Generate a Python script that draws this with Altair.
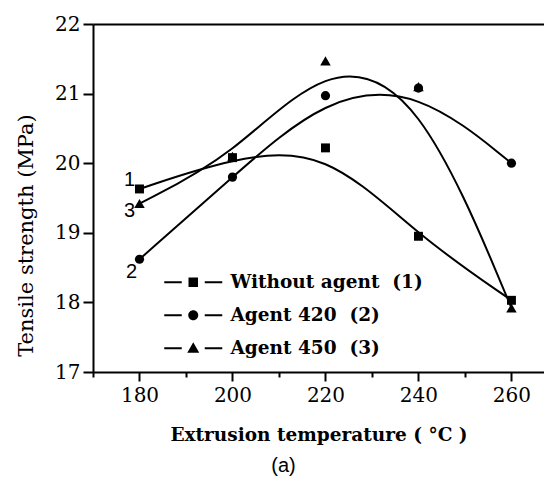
import altair as alt
import pandas as pd

temps = [180, 200, 220, 240, 260]
series_names = ["Without agent\u00a0\u00a0(1)", "Agent 420\u00a0\u00a0(2)", "Agent 450\u00a0\u00a0(3)"]
without_agent = [19.63, 20.08, 20.22, 18.95, 18.03]
agent_420 = [18.62, 19.80, 20.97, 21.08, 20.00]
agent_450 = [19.42, 20.10, 21.47, 21.10, 17.92]
curve_labels = ["1", "2", "3"]
point_shapes = ["square", "circle", "triangle-up"]
point_sizes = [80, 85, 110]

x_ticks = [170, 180, 190, 200, 210, 220, 230, 240, 250, 260]
y_ticks = [17, 17.5, 18, 18.5, 19, 19.5, 20, 20.5, 21, 21.5, 22]

rows = []
for name, vals, lab in zip(series_names, [without_agent, agent_420, agent_450], curve_labels):
    for t, v in zip(temps, vals):
        rows.append({"temp": t, "ts": v, "series": name, "lab": lab})
df = pd.DataFrame(rows)

serif = "DejaVu Serif"

xscale = alt.Scale(domain=[170, 267], nice=False, zero=False)
yscale = alt.Scale(domain=[17, 22], nice=False, zero=False)

x_enc = alt.X("temp:Q", scale=xscale, axis=alt.Axis(
    values=x_ticks, grid=False, orient="bottom",
    labelExpr="datum.value % 20 == 0 ? datum.label : ''",
    tickSize={"condition": {"test": "datum.value % 20 == 0", "value": 9}, "value": 5},
    tickWidth=2, domainWidth=2, domainColor="black", tickColor="black",
    labelFont=serif, labelFontSize=20, labelColor="black", labelPadding=4,
    title="Extrusion temperature ( °C )", titleFont=serif, titleFontSize=18.5,
    titleFontWeight="bold", titleColor="black", titlePadding=20))
y_enc = alt.Y("ts:Q", scale=yscale, axis=alt.Axis(
    values=y_ticks, grid=False, format="d",
    labelExpr="datum.value % 1 == 0 ? datum.label : ''",
    tickSize={"condition": {"test": "datum.value % 1 == 0", "value": 10}, "value": 6},
    tickWidth=2, domainWidth=2, domainColor="black", tickColor="black",
    labelFont=serif, labelFontSize=20, labelColor="black", labelPadding=3,
    title="Tensile strength (MPa)", titleFont=serif, titleFontSize=21,
    titleFontWeight="normal", titleColor="black", titlePadding=18, titleY=211))

xn = alt.X("temp:Q", scale=xscale, axis=None)
yn = alt.Y("ts:Q", scale=yscale)

base = alt.Chart(df)

lines = base.mark_line(interpolate="basis", color="black", strokeWidth=2).encode(
    x=x_enc, y=y_enc, detail="series:N")

top_axis = base.mark_line(opacity=0).encode(
    x=alt.X("temp:Q", scale=xscale, axis=alt.Axis(orient="top", labels=False, ticks=False,
                                                 domainWidth=2, domainColor="black", title=None, grid=False)),
    y=yn, detail="series:N")

point_layers = []
for name, shp, sz in zip(series_names, point_shapes, point_sizes):
    point_layers.append(base.mark_point(filled=True, color="black", opacity=1, size=sz, shape=shp).encode(
        x=xn, y=yn).transform_filter(alt.datum.series == name))

dashes = "M-5.8,-0.2H-2.3V0.2H-5.8Z M2.3,-0.2H5.8V0.2H2.3Z "
sq = dashes + "M-0.95,-0.95H0.95V0.95H-0.95Z"
ci = dashes + "M-1,0A1,1 0 1,1 1,0A1,1 0 1,1 -1,0Z"
tr = dashes + "M0,-1.2L1.2,0.9H-1.2Z"

legend_layer = base.mark_point(filled=True, color="black", opacity=1).encode(
    x=xn, y=yn,
    shape=alt.Shape("series:N", scale=alt.Scale(domain=series_names, range=[sq, ci, tr]),
                    legend=alt.Legend(title=None, orient="none", legendX=91, legendY=249,
                                      symbolSize=100, symbolStrokeWidth=0,
                                      symbolFillColor="black",
                                      symbolOpacity=1, labelOffset=28,
                                      labelFont=serif, labelFontSize=18.5, labelFontWeight="bold",
                                      labelColor="black", rowPadding=14, padding=0,
                                      labelLimit=400))
).transform_filter("false")

offsets = {"1": (-10, -9), "2": (-8, 13), "3": (-10, 7)}
texts = []
for lab in curve_labels:
    dx, dy = offsets[lab]
    texts.append(base.mark_text(font="Liberation Sans", fontSize=20, color="black", dx=dx, dy=dy).encode(
        x=xn, y=yn, text="lab:N").transform_filter(f"datum.temp == 180 && datum.lab == '{lab}'"))

chart = alt.layer(lines, top_axis, *point_layers, legend_layer, *texts).resolve_axis(
    x="independent").properties(
    width=451, height=348,
    autosize=alt.AutoSizeParams(type="none"),
    padding={"left": 93, "top": 24, "right": 0, "bottom": 111},
    title=alt.TitleParams("(a)", orient="bottom", anchor="middle", dx=-35, offset=12,
                          font="Liberation Sans", fontSize=20, fontWeight="normal", color="black")
).configure_view(stroke=None).configure_axis(
    titleColor="black", labelColor="black"
).configure(background="white")

chart.save("out.html", embed_options={"renderer": "svg", "actions": False})
